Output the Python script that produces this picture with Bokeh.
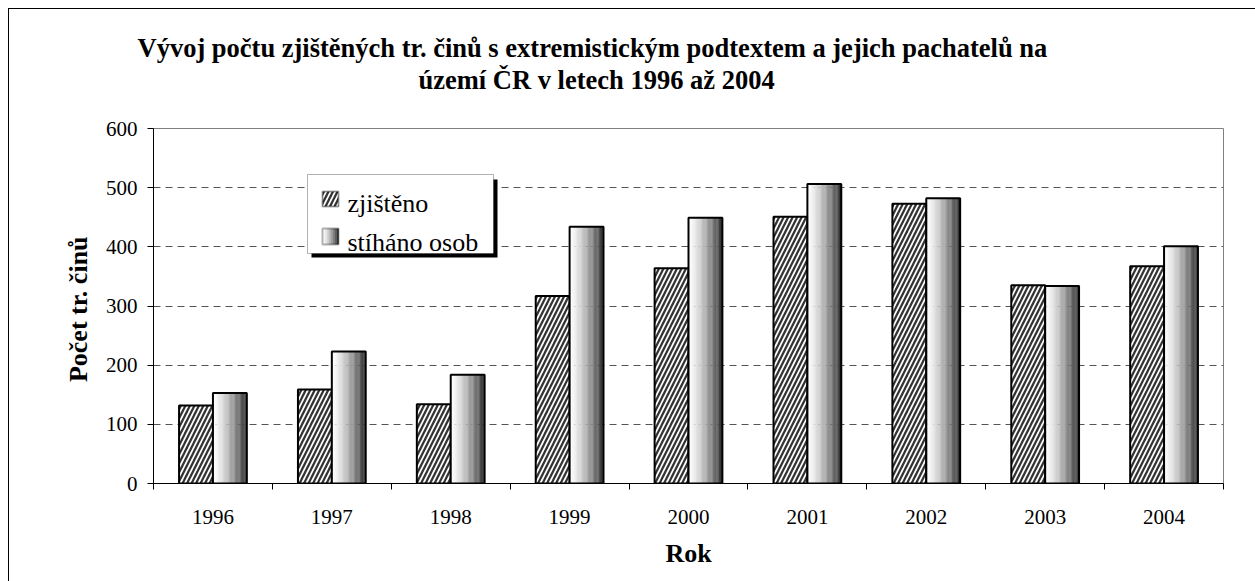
from bokeh.plotting import figure
from bokeh.models import (Range1d, FixedTicker, Label, BoxAnnotation, ColumnDataSource, Title)
from bokeh.embed import file_html
from bokeh.resources import INLINE

years = ["1996", "1997", "1998", "1999", "2000", "2001", "2002", "2003", "2004"]
zjisteno = [132, 159, 134, 317, 364, 451, 473, 335, 367]
stihano = [153, 223, 184, 434, 449, 506, 482, 334, 401]
y_ticks = [0, 100, 200, 300, 400, 500, 600]

title_1 = "Vývoj počtu zjištěných tr. činů s extremistickým podtextem a jejich pachatelů na"
title_2 = "území ČR v letech 1996 až 2004"
x_label = "Rok"
y_label = "Počet  tr. činů"
series_names = ["zjištěno", "stíháno osob"]

FONT = "Liberation Serif"
W, H = 1255, 581
FL, FR, FT, FB = 153, 1223, 128, 483   # frame edges in page pixels
BAR_W = 0.285
HATCH = dict(fill_color="#333333", hatch_pattern="/", hatch_color="white",
             hatch_weight=1.7, hatch_scale=9)

p = figure(width=W, height=H, output_backend="svg", toolbar_location=None,
           x_range=Range1d(-0.5, len(years) - 0.5), y_range=Range1d(0, 600),
           min_border_left=FL, min_border_right=W - FR, min_border_top=FT,
           min_border_bottom=H - FB)
p.border_fill_color = None
p.background_fill_color = "white"
p.outline_line_color = "#808080"
p.outline_line_width = 1
p.styles = {"box-shadow": "inset 8px 8px 0 0 #ffffff, inset 9px 9px 0 0 #000000"}

idx = list(range(len(years)))


def gray(t):
    g = int(round(255 - 215 * t ** 1.4))
    return "#%02x%02x%02x" % (g, g, g)


# zjištěno: hatched bars
zj_src = ColumnDataSource(dict(x=[i - BAR_W / 2 for i in idx], top=zjisteno))
p.vbar(x="x", top="top", width=BAR_W, bottom=0, source=zj_src,
       line_color="black", line_width=2, **HATCH)

# stíháno osob: horizontal gradient bars built from thin strips
N = 28
sx, stop, sw, scol = [], [], [], []
for i, v in zip(idx, stihano):
    for k in range(N):
        sx.append(i + (k + 0.5) * BAR_W / N)
        stop.append(v)
        sw.append(BAR_W / N * 1.15)
        scol.append(gray((k + 0.5) / N))
st_src = ColumnDataSource(dict(x=sx, top=stop, w=sw, c=scol))
p.vbar(x="x", top="top", width="w", bottom=0, source=st_src,
       fill_color="c", line_color=None)
st_out = ColumnDataSource(dict(x=[i + BAR_W / 2 for i in idx], top=stihano))
p.vbar(x="x", top="top", width=BAR_W, bottom=0, source=st_out,
       fill_color=None, line_color="black", line_width=2)

# axes
p.xaxis.ticker = FixedTicker(ticks=idx, minor_ticks=[i - 0.5 for i in range(len(years) + 1)])
p.xaxis.major_label_overrides = {i: y for i, y in zip(idx, years)}
p.xaxis.major_tick_out = 0
p.xaxis.major_tick_in = 0
p.xaxis.minor_tick_out = 6
p.xaxis.minor_tick_in = 0
p.xaxis.major_label_standoff = 20
p.xaxis.axis_label = x_label
p.xaxis.axis_label_standoff = 12

p.yaxis.ticker = FixedTicker(ticks=y_ticks, minor_ticks=[])
p.yaxis.major_tick_out = 6
p.yaxis.major_tick_in = 0
p.yaxis.major_label_standoff = 10
p.yaxis.axis_label = y_label
p.yaxis.axis_label_standoff = 10

for ax in (p.xaxis, p.yaxis):
    ax.axis_line_color = "black"
    ax.axis_line_width = 1
    ax.major_tick_line_color = "black"
    ax.minor_tick_line_color = "black"
    ax.major_label_text_font = FONT
    ax.major_label_text_font_size = "21px"
    ax.major_label_text_color = "black"
    ax.axis_label_text_font = FONT
    ax.axis_label_text_font_size = "26px"
    ax.axis_label_text_font_style = "bold"
    ax.axis_label_text_color = "black"

p.xgrid.visible = False
p.ygrid.ticker = FixedTicker(ticks=y_ticks[1:-1])
p.ygrid.grid_line_color = "#555555"
p.ygrid.grid_line_dash = "7 5"
p.ygrid.grid_line_width = 1


# ---- legend (drawn as annotations; pixel -> data through frame geometry)
def px2x(px):
    return -0.5 + (px - FL) * len(years) / float(FR - FL)


def py2y(py):
    return (FB - py) * 600.0 / (FB - FT)


def box(l, r, t, b, **kw):
    p.add_layout(BoxAnnotation(left=px2x(l), right=px2x(r), top=py2y(t), bottom=py2y(b), **kw))


box(311, 497, 179, 257, fill_color="black", fill_alpha=1, line_color=None)
box(307, 493, 174, 253, fill_color="white", fill_alpha=1, line_color="black", line_width=1)
# glyph 1 (hatched)
box(322, 338, 191, 206, fill_alpha=1, hatch_alpha=1, line_color="black", line_width=2, **HATCH)
# glyph 2 (gradient)
G = 8
for k in range(G):
    box(322 + 16.0 * k / G, 322 + 16.0 * (k + 1) / G + 0.3, 228, 244,
        fill_color=gray((k + 0.5) / G), fill_alpha=1, line_color=None)
box(322, 338, 228, 244, fill_color=None, fill_alpha=0, line_color="black", line_width=2)

for txt, yb in zip(series_names, (203, 241.5)):
    p.add_layout(Label(x=px2x(347), y=py2y(yb), text=txt, text_align="left",
                       text_baseline="alphabetic", text_font=FONT, text_font_size="26px",
                       text_color="black"))

# ---- two-line title (closest line added first)
for txt, left_px, so in ((title_2, 418, 68), (title_1, 137, -68)):
    p.add_layout(Title(text=txt, align="left", offset=left_px - FL, standoff=so,
                       text_font=FONT, text_font_size="26.5px", text_font_style="bold",
                       text_color="black"), "above")

open("out.html", "w").write(file_html(p, INLINE))
